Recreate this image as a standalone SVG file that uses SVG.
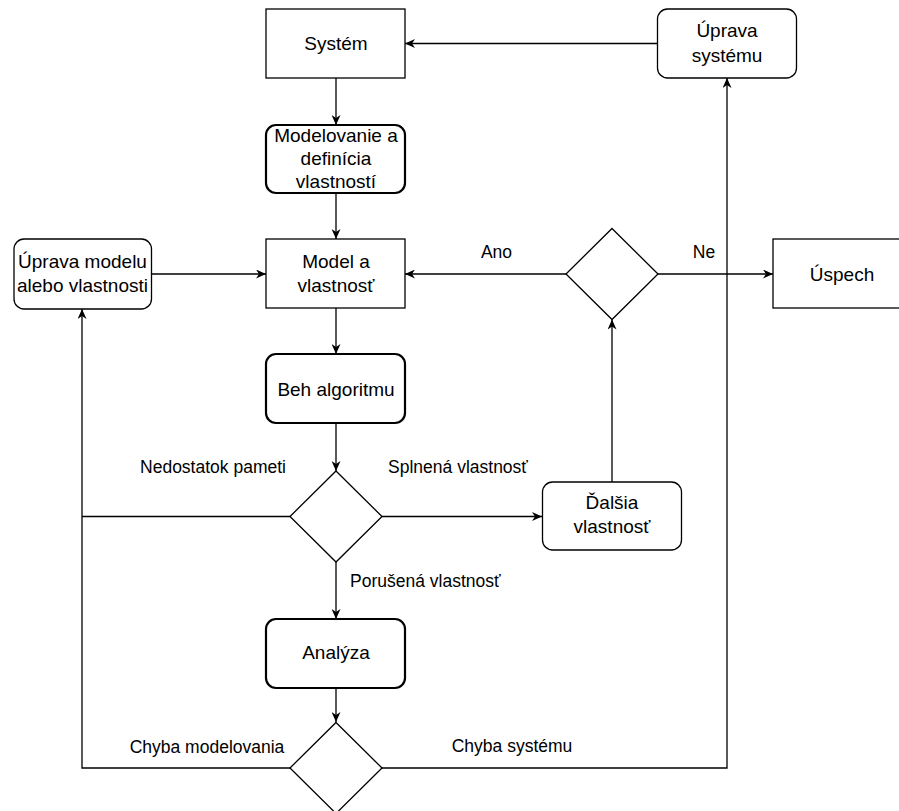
<svg xmlns="http://www.w3.org/2000/svg" width="899" height="811" viewBox="0 0 899 811">
<defs>
<marker id="arr" markerWidth="11" markerHeight="9" refX="10" refY="4.5" orient="auto" markerUnits="userSpaceOnUse">
<path d="M0,0 L10,4.5 L0,9 L3,4.5 Z" fill="#000"/>
</marker>
</defs>
<style>
.box{fill:#fff;stroke:#000;stroke-width:1.3}
.thick{fill:#fff;stroke:#000;stroke-width:2.2}
.t{font-family:"Liberation Sans",Arial,sans-serif;font-size:19px;fill:#000;text-anchor:middle}
.l{font-family:"Liberation Sans",Arial,sans-serif;font-size:17.5px;fill:#000;text-anchor:middle}
.c{fill:none;stroke:#000;stroke-width:1.3}
.ca{fill:none;stroke:#000;stroke-width:1.3;marker-end:url(#arr)}
</style>
<rect width="899" height="811" fill="#fff"/>
<g id="connectors">
<path class="ca" d="M336,78 V125"/>
<path class="ca" d="M336,193 V239"/>
<path class="ca" d="M336,308 V354"/>
<path class="ca" d="M336,423 V471"/>
<path class="ca" d="M336,562 V619"/>
<path class="ca" d="M336,688 V722"/>
<path class="ca" d="M657,43.5 H405"/>
<path class="ca" d="M151,274 H266"/>
<path class="ca" d="M566,274 H405"/>
<path class="ca" d="M658,274 H773"/>
<path class="ca" d="M382,516.5 H542"/>
<path class="ca" d="M612,482 V319.5"/>
<path class="c" d="M290,516.5 H82"/>
<path class="ca" d="M290,768 H82 V309"/>
<path class="ca" d="M382,768 H727 V78"/>
</g>
<g id="labels">
<text class="l" x="496.5" y="258">Ano</text>
<text class="l" x="704" y="258">Ne</text>
<text class="l" x="213" y="473">Nedostatok pameti</text>
<text class="l" x="458" y="473">Splnená vlastnosť</text>
<text class="l" x="350" y="587" style="text-anchor:start">Porušená vlastnosť</text>
<text class="l" x="207" y="753">Chyba modelovania</text>
<text class="l" x="512" y="752">Chyba systému</text>
</g>
<g id="system"><rect class="box" x="266" y="9" width="139" height="69"/><text class="t" x="336" y="50">Systém</text></g>
<g id="uprava-systemu"><rect class="box" x="657.5" y="9" width="139" height="69" rx="10"/><text class="t" x="727" y="37">Úprava</text><text class="t" x="727" y="61.5">systému</text></g>
<g id="modelovanie"><rect class="thick" x="266" y="125" width="139" height="68" rx="10"/><text class="t" x="336" y="142">Modelovanie a</text><text class="t" x="336" y="165">definícia</text><text class="t" x="336" y="188">vlastností</text></g>
<g id="model"><rect class="box" x="266" y="239" width="139" height="69"/><text class="t" x="336" y="268">Model a</text><text class="t" x="336" y="291.5">vlastnosť</text></g>
<g id="uprava-modelu"><rect class="box" x="14" y="239" width="137.5" height="70" rx="10"/><text class="t" x="82.5" y="268">Úprava modelu</text><text class="t" x="82.5" y="291.5">alebo vlastnosti</text></g>
<g id="decision1"><polygon class="box" points="612,228.5 658,274 612,319.5 566,274"/></g>
<g id="uspech"><rect class="box" x="773" y="239" width="139" height="69"/><text class="t" x="842" y="281">Úspech</text></g>
<g id="beh"><rect class="thick" x="266" y="354" width="139" height="69" rx="10"/><text class="t" x="336" y="395.5">Beh algoritmu</text></g>
<g id="decision2"><polygon class="box" points="336,471 382,516.5 336,562 290,516.5"/></g>
<g id="dalsia"><rect class="box" x="542.5" y="482" width="139" height="68" rx="10"/><text class="t" x="612" y="509">Ďalšia</text><text class="t" x="612" y="533">vlastnosť</text></g>
<g id="analyza"><rect class="thick" x="266" y="619" width="139" height="69" rx="10"/><text class="t" x="336" y="659">Analýza</text></g>
<g id="decision3"><polygon class="box" points="336,722.5 382,768 336,813.5 290,768"/></g>
</svg>
